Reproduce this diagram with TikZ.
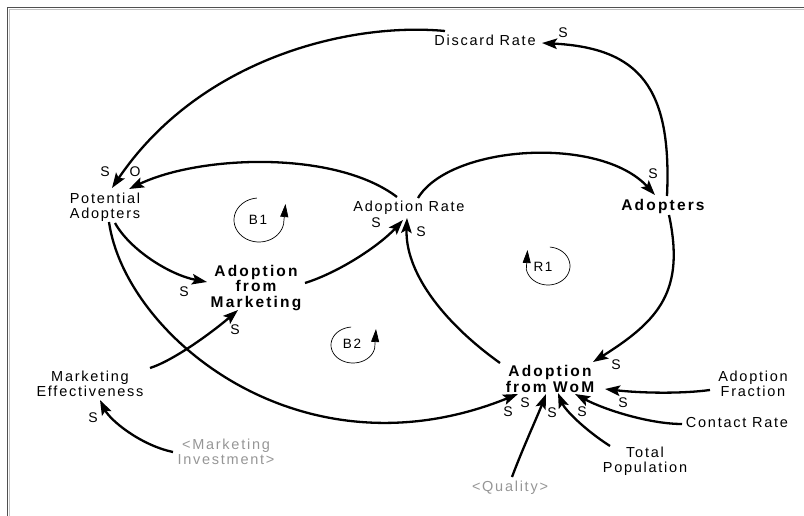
\documentclass[tikz,border=0pt]{standalone}
\usepackage{fontspec}
\usetikzlibrary{arrows.meta}
\newfontfamily\diagfont{Liberation Sans}[LetterSpace=12]
\newfontfamily\stockfont{Liberation Sans Bold}[LetterSpace=14]
\definecolor{framedark}{RGB}{80,80,80}
\definecolor{framelight}{RGB}{195,195,195}
\definecolor{ghosttxt}{RGB}{150,150,150}

\tikzset{
  var/.style={inner sep=0pt, align=center, font=\diagfont\fontsize{14.5}{15}\selectfont},
  stockvar/.style={inner sep=0pt, align=center, font=\stockfont\fontsize{15.5}{15.5}\selectfont},
  ghostvar/.style={var, text=ghosttxt},
  pol/.style={inner sep=0pt, font=\diagfont\fontsize{14}{15}\selectfont},
  link/.style={line width=2.3pt, -{Stealth[length=15pt,width=10.5pt,inset=3pt]}},
  loopline/.style={line width=0.7pt},
  looptip/.style={line width=0.7pt, -{Triangle[length=13pt,width=8pt]}},
  looplbl/.style={inner sep=0pt, font=\diagfont\fontsize{13.5}{14}\selectfont},
}

\begin{document}
\begin{tikzpicture}[x=1pt,y=-1pt]
\useasboundingbox (0,0) rectangle (804,516);

% window frame (top and left edges)
\draw[framelight, line width=1pt] (9.2,516) -- (9.2,9.2) -- (804,9.2);
\draw[framedark, line width=1.5pt] (7.5,516) -- (7.5,7.5) -- (804,7.5);

% variables
\node[var]      (dr) at (485,40)  {Discard Rate};
\node[var]      (pa) at (105,207) {Potential\\Adopters};
\node[var]      (ar) at (409,208) {Adoption Rate};
\node[stockvar] (ad) at (663,206) {Adopters};
\node[stockvar] (am) at (256,288) {Adoption\\from\\Marketing};
\node[var]      (me) at (90,384)  {Marketing\\Effectiveness};
\node[ghostvar] (mi) at (226,452) {\textless Marketing\\Investment\textgreater};
\node[stockvar] (aw) at (550,379) {Adoption\\from WoM};
\node[var]      (af) at (753,384) {Adoption\\Fraction};
\node[var]      (cr) at (737,423) {Contact Rate};
\node[var]      (tp) at (645,461) {Total\\Population};
\node[ghostvar] (q)  at (510,488) {\textless Quality\textgreater};

% causal links
\draw[link] ([shift={(-40,-9)}]dr.center) .. controls (350,22) and (200,58) .. ([shift={(7,-19)}]pa.center);
\draw[link] ([shift={(4,-10)}]ad.center) .. controls (672,88) and (640,48) .. ([shift={(57,3)}]dr.center);
\draw[link] ([shift={(-12,-11)}]ar.center) .. controls (335,150) and (200,155) .. ([shift={(24,-18)}]pa.center);
\draw[link] ([shift={(9,-10)}]ar.center) .. controls (450,145) and (600,135) .. ([shift={(-8,-11)}]ad.center);
\draw[link] ([shift={(10,16)}]pa.center) .. controls (130,250) and (170,275) .. ([shift={(-49,-6)}]am.center);
\draw[link] ([shift={(4,15)}]pa.center) .. controls (125,335) and (300,482) .. ([shift={(-32,15)}]aw.center);
\draw[link] ([shift={(60,-16)}]me.center) .. controls (175,360) and (215,330) .. ([shift={(-18,22)}]am.center);
\draw[link] ([shift={(-53,0)}]mi.center) .. controls (140,445) and (110,420) .. ([shift={(10,16)}]me.center);
\draw[link] ([shift={(49,-5)}]am.center) .. controls (340,272) and (380,245) .. ([shift={(-6,12)}]ar.center);
\draw[link] ([shift={(-50,-16)}]aw.center) .. controls (440,320) and (405,270) .. ([shift={(-2,10)}]ar.center);
\draw[link] ([shift={(6,9)}]ad.center) .. controls (685,290) and (660,320) .. ([shift={(43,-17)}]aw.center);
\draw[link] ([shift={(-43,6)}]af.center) .. controls (680,394) and (640,393) .. ([shift={(55,10)}]aw.center);
\draw[link] ([shift={(-55,1)}]cr.center) .. controls (650,424) and (605,410) .. ([shift={(25,15)}]aw.center);
\draw[link] ([shift={(-35,-15)}]tp.center) .. controls (585,430) and (565,410) .. ([shift={(8,14)}]aw.center);
\draw[link] ([shift={(2,-11)}]q.center) .. controls (522,450) and (538,415) .. ([shift={(-4,15)}]aw.center);

% link polarities
\node[pol] (s1)  at (563,33)  {S};
\node[pol] (s2)  at (105,172) {S};
\node[pol] (o1)  at (135,172) {O};
\node[pol] (s3)  at (653,174) {S};
\node[pol] (s4)  at (376,223) {S};
\node[pol] (s5)  at (421,232) {S};
\node[pol] (s6)  at (184,292) {S};
\node[pol] (s7)  at (235,330) {S};
\node[pol] (s8)  at (93,418)  {S};
\node[pol] (s9)  at (616,365) {S};
\node[pol] (s10) at (508,412) {S};
\node[pol] (s11) at (525,403) {S};
\node[pol] (s12) at (552,413) {S};
\node[pol] (s13) at (582,412) {S};
\node[pol] (s14) at (623,403) {S};

% loop markers
\node[looplbl] (b1) at (258,220) {B1};
\draw[loopline] plot[smooth, variable=\t, domain=95:350, samples=40] ({259+25*cos(\t)}, {220-22*sin(\t)});
\draw[looptip] (283.6,223.8) -- (285.5,204);

\node[looplbl] (b2) at (352,344) {B2};
\draw[loopline] plot[smooth, variable=\t, domain=95:350, samples=40] ({353+22*cos(\t)}, {345-18*sin(\t)});
\draw[looptip] (374.7,348.1) -- (376,329);

\node[looplbl] (r1) at (543,267) {R1};
\draw[loopline] plot[smooth, variable=\t, domain=-170:85, samples=40] ({548+22*cos(\t)}, {266-19*sin(\t)});
\draw[looptip] (526.3,269.3) -- (527.5,250);
\end{tikzpicture}
\end{document}
